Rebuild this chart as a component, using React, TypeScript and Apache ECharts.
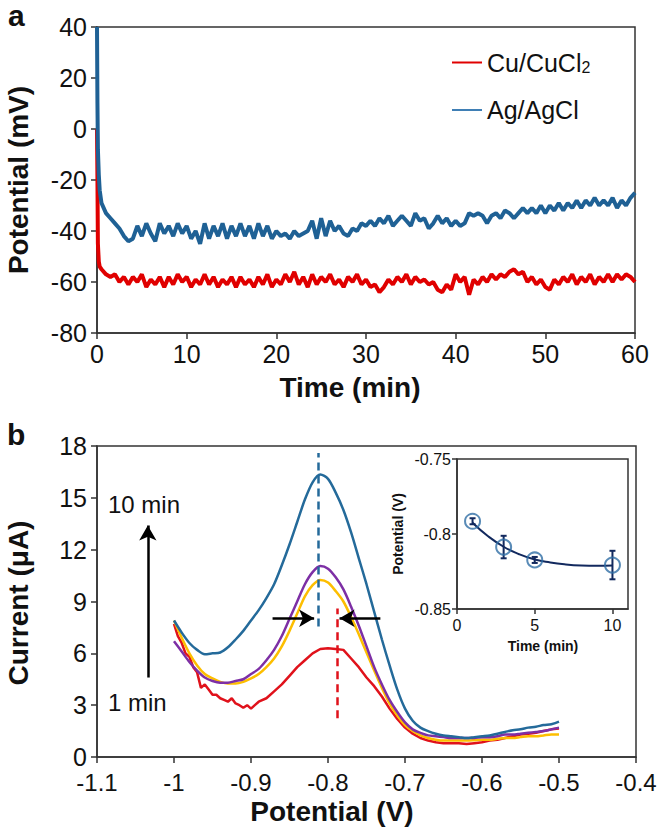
import React, { useEffect, useRef } from "react";
import * as echarts from "echarts";

// ---------- Panel a: open-circuit potential vs time ----------
const earlyTime = [0, 0.05, 0.1, 0.2, 0.3];
const agEarly = [40, 10, -8, -18, -24];
const cuEarly = [0, -20, -45, -52, -54];
// values every 0.5 min from 0.5 to 60 min
const agValues = [
  -29, -33, -35, -37, -39, -42, -44, -43, -38, -42, -37, -41, -44, -37, -41, -38, -42, -37, -41, -38,
  -43, -40, -45, -37, -43, -38, -42, -37, -43, -38, -42, -37, -42, -38, -43, -37, -42, -38, -43, -40,
  -42, -41, -43, -40, -42, -41, -40, -36, -43, -35, -42, -36, -40, -38, -41, -42, -39, -40, -37, -38,
  -36, -38, -35, -37, -34, -38, -36, -34, -36, -38, -33, -36, -35, -39, -37, -34, -37, -35, -38, -36,
  -38, -37, -33, -34, -33, -34, -37, -34, -33, -35, -32, -33, -35, -33, -31, -33, -31, -33, -30, -33,
  -30, -32, -29, -32, -29, -31, -28, -31, -28, -30, -27, -30, -28, -30, -27, -31, -28, -30, -27, -25,
];
const cuValues = [
  -55, -57, -58, -57, -60, -58, -61, -58, -60, -57, -62, -59, -61, -58, -62, -58, -61, -57, -60, -58,
  -62, -59, -61, -57, -61, -58, -62, -59, -61, -58, -62, -58, -61, -59, -62, -58, -61, -57, -62, -59,
  -61, -57, -60, -56, -61, -58, -62, -57, -61, -58, -60, -57, -61, -59, -62, -58, -60, -57, -61, -59,
  -62, -61, -64, -62, -59, -61, -58, -60, -57, -61, -58, -60, -59, -61, -60, -63, -64, -61, -63, -57,
  -60, -58, -65, -59, -61, -58, -60, -57, -59, -57, -58, -56, -55, -57, -56, -60, -58, -61, -59, -62,
  -63, -59, -61, -58, -60, -57, -61, -58, -60, -57, -61, -58, -60, -57, -60, -57, -59, -57, -58, -60,
];

// ---------- Panel b: voltammograms ----------
const potentialX = [
  -1.0, -0.99, -0.98, -0.97, -0.96, -0.95, -0.94, -0.93, -0.92, -0.91, -0.9, -0.89, -0.88, -0.87, -0.86,
  -0.85, -0.84, -0.83, -0.82, -0.81, -0.8, -0.79, -0.78, -0.77, -0.76, -0.75, -0.74, -0.73, -0.72, -0.71,
  -0.7, -0.69, -0.68, -0.67, -0.66, -0.65, -0.64, -0.63, -0.62, -0.61, -0.6, -0.59, -0.58, -0.57, -0.56,
  -0.55, -0.54, -0.53, -0.52, -0.51, -0.5,
];
const current10min = [
  7.9, 7.2, 6.6, 6.2, 5.95, 6.0, 6.05, 6.35, 6.8, 7.3, 7.9, 8.5, 9.2, 10.0, 11.1,
  12.3, 13.6, 14.9, 15.9, 16.35, 16.1, 15.3, 14.3, 13.0, 11.5, 10.0, 8.4, 6.8, 5.3, 3.9,
  2.8, 2.1, 1.7, 1.5, 1.35, 1.25, 1.2, 1.15, 1.1, 1.15, 1.2, 1.25, 1.35, 1.45, 1.55,
  1.6, 1.7, 1.75, 1.85, 1.9, 2.05,
];
const current5min = [
  6.7, 6.1, 5.5, 5.0, 4.6, 4.4, 4.3, 4.3, 4.4, 4.5, 4.8, 5.1, 5.6, 6.2, 7.0,
  8.0, 9.0, 10.0, 10.7, 11.05, 10.9, 10.4, 9.7, 8.7, 7.6, 6.4, 5.2, 4.2, 3.3, 2.6,
  2.0, 1.6, 1.4, 1.25, 1.2, 1.15, 1.1, 1.1, 1.1, 1.1, 1.15, 1.15, 1.2, 1.3, 1.3,
  1.35, 1.4, 1.45, 1.5, 1.6, 1.7,
];
const current3min = [
  7.9, 6.9, 6.0, 5.3, 4.8, 4.55, 4.35, 4.25, 4.25, 4.35, 4.55, 4.8, 5.2, 5.7, 6.4,
  7.3, 8.3, 9.3, 9.95, 10.25, 10.1, 9.6, 9.0, 8.1, 7.1, 6.05, 5.0, 4.0, 3.1, 2.4,
  1.85, 1.5, 1.25, 1.1, 1.0, 0.95, 0.95, 0.95, 0.95, 0.97, 1.0, 1.0, 1.05, 1.1, 1.1,
  1.15, 1.2, 1.2, 1.25, 1.3, 1.3,
];
const redX = [
  -1.0, -0.995, -0.99, -0.985, -0.98, -0.975, -0.97, -0.965, -0.96, -0.955, -0.95, -0.945, -0.94, -0.935,
  -0.93, -0.925, -0.92, -0.915, -0.91, -0.905, -0.9, -0.895, -0.89, -0.88, -0.87, -0.86, -0.85, -0.84,
  -0.83, -0.82, -0.81, -0.8, -0.79, -0.78, -0.77, -0.76, -0.75, -0.74, -0.73, -0.72, -0.71, -0.7, -0.69,
  -0.68, -0.67, -0.66, -0.65, -0.64, -0.63, -0.62, -0.61, -0.6, -0.59, -0.58, -0.57, -0.56, -0.55, -0.54,
  -0.53, -0.52, -0.51, -0.5,
];
const current1min = [
  7.7, 7.0, 6.6, 6.0, 5.8, 5.2, 4.9, 4.0, 4.2, 3.9, 3.6, 3.6, 3.4, 3.3,
  3.2, 3.4, 3.1, 3.0, 2.85, 3.0, 2.8, 3.0, 3.2, 3.4, 3.8, 4.2, 4.7, 5.2,
  5.6, 6.0, 6.25, 6.3, 6.25, 6.2, 5.7, 5.2, 4.6, 4.1, 3.5, 2.8, 2.2, 1.7, 1.35,
  1.1, 0.95, 0.85, 0.8, 0.8, 0.8, 0.75, 0.8, 0.85, 0.95, 1.0, 1.1, 1.2, 1.3, 1.35,
  1.4, 1.5, 1.6, 1.65,
];
const peak10min = -0.813;
const peak1min = -0.788;

// ---------- Inset: peak potential vs time ----------
const insetTime = [1, 3, 5, 10];
const insetPeak = [-0.7915, -0.8087, -0.8173, -0.8207];
const insetErr = [0.002, 0.0075, 0.002, 0.0095];
const fitTime = [1, 2, 3, 4, 5, 6, 7, 8, 9, 10];
const fitPeak = [-0.7925, -0.8015, -0.8085, -0.8135, -0.817, -0.819, -0.8203, -0.821, -0.8212, -0.821];

const FONT = "'Liberation Sans', Arial, sans-serif";
const RED = "#e00000";
const BLUE_A = "#1f6195";
const B_BLUE = "#246a9a";
const B_PURPLE = "#7d2fa5";
const B_YELLOW = "#fdbe00";
const B_RED = "#e0121b";
const NAVY = "#12295e";
const AXIS = "#333";

function pairs(xs: number[], ys: number[]) {
  return xs.map((x, i) => [x, ys[i]]);
}
function timeSeries(early: number[], values: number[]) {
  const out: number[][] = early.map((v, i) => [earlyTime[i], v]);
  values.forEach((v, i) => out.push([0.5 * (i + 1), v]));
  return out;
}
const fmt1 = (v: number) => String(Number(v.toFixed(2)));

export default function App() {
  const ref = useRef<HTMLDivElement>(null);
  useEffect(() => {
    if (!ref.current) return;
    const chart = echarts.init(ref.current, undefined, { renderer: "svg" });
    const axisLine = { show: true, onZero: false, lineStyle: { color: AXIS, width: 1.5 } };
    const tick = { show: true, inside: false, length: 6, lineStyle: { color: AXIS, width: 1.5 } };
    const tickLabel = { color: "#111", fontSize: 25, fontFamily: FONT };
    const option: any = {
      animation: false,
      backgroundColor: "#fff",
      grid: [
        { left: 97, top: 27, width: 538, height: 306, show: true, borderColor: AXIS, borderWidth: 1.5 },
        { left: 97, top: 446, width: 539, height: 311, show: true, borderColor: AXIS, borderWidth: 1.5 },
        { left: 457, top: 459, width: 171, height: 150, show: true, borderColor: AXIS, borderWidth: 1.5, backgroundColor: "#fff" },
      ],
      xAxis: [
        { type: "value", gridIndex: 0, min: 0, max: 60, interval: 10, axisLine, axisTick: tick, splitLine: { show: false }, axisLabel: { ...tickLabel, margin: 8 } },
        { type: "value", gridIndex: 1, min: -1.1, max: -0.4, interval: 0.1, axisLine, axisTick: tick, splitLine: { show: false }, axisLabel: { ...tickLabel, fontSize: 24, margin: 13, formatter: fmt1 } },
        { type: "value", gridIndex: 2, min: 0, max: 11, axisLine, axisTick: { ...tick, length: 5, customValues: [0, 5, 10] }, splitLine: { show: false }, axisLabel: { color: "#111", fontSize: 16, fontFamily: FONT, margin: 8, customValues: [0, 5, 10] } },
      ],
      yAxis: [
        { type: "value", gridIndex: 0, min: -80, max: 40, interval: 20, axisLine, axisTick: tick, splitLine: { show: false }, axisLabel: { ...tickLabel, margin: 10 } },
        { type: "value", gridIndex: 1, min: 0, max: 18, interval: 3, axisLine, axisTick: tick, splitLine: { show: false }, axisLabel: { ...tickLabel, margin: 10 } },
        { type: "value", gridIndex: 2, min: -0.85, max: -0.75, interval: 0.05, axisLine, axisTick: { ...tick, length: 5 }, splitLine: { show: false }, axisLabel: { color: "#111", fontSize: 16, fontFamily: FONT, margin: 6, formatter: fmt1 } },
      ],
      legend: {
        orient: "vertical",
        left: 447,
        top: 45,
        itemWidth: 30,
        itemHeight: 14,
        itemGap: 22,
        icon: "path://M0,6 L30,6 L30,8 L0,8 Z",
        data: ["Cu/CuCl2", "Ag/AgCl"],
        formatter: (name: string) => (name === "Cu/CuCl2" ? "{t|Cu/CuCl}{s|2}" : "{t|Ag/AgCl}"),
        textStyle: {
          rich: {
            t: { fontSize: 25, fontFamily: FONT, color: "#111" },
            s: { fontSize: 16, fontFamily: FONT, color: "#111", verticalAlign: "bottom", padding: [10, 0, 0, 0] },
          },
        },
      },
      series: [
        { name: "Cu/CuCl2", type: "line", xAxisIndex: 0, yAxisIndex: 0, data: timeSeries(cuEarly, cuValues), showSymbol: false, lineStyle: { color: RED, width: 4 }, itemStyle: { color: RED } },
        { name: "Ag/AgCl", type: "line", xAxisIndex: 0, yAxisIndex: 0, data: timeSeries(agEarly, agValues), showSymbol: false, lineStyle: { color: BLUE_A, width: 4 }, itemStyle: { color: "#3f7fb5" } },
        { name: "1 min", type: "line", xAxisIndex: 1, yAxisIndex: 1, data: pairs(redX, current1min), showSymbol: false, lineStyle: { color: B_RED, width: 2.5 } },
        { name: "3 min", type: "line", xAxisIndex: 1, yAxisIndex: 1, data: pairs(potentialX, current3min), showSymbol: false, smooth: 0.3, lineStyle: { color: B_YELLOW, width: 2.5 } },
        { name: "5 min", type: "line", xAxisIndex: 1, yAxisIndex: 1, data: pairs(potentialX, current5min), showSymbol: false, smooth: 0.3, lineStyle: { color: B_PURPLE, width: 2.5 } },
        {
          name: "10 min", type: "line", xAxisIndex: 1, yAxisIndex: 1, data: pairs(potentialX, current10min), showSymbol: false, smooth: 0.3, lineStyle: { color: B_BLUE, width: 2.5 },
          markLine: {
            silent: true,
            symbol: "none",
            label: { show: false },
            data: [
              [{ coord: [peak10min, 7.55] }, { coord: [peak10min, 17.6] }],
              [{ coord: [peak1min, 2.25], lineStyle: { color: B_RED, type: [8, 5], width: 2.5 } }, { coord: [peak1min, 8.6] }],
            ],
            lineStyle: { color: B_BLUE, type: [8, 5], width: 2.5 },
          },
        },
        {
          name: "arrows", type: "line", xAxisIndex: 1, yAxisIndex: 1, data: [], showSymbol: false,
          markLine: {
            silent: true,
            symbol: ["none", "arrow"],
            symbolSize: [13, 15],
            label: { show: false },
            lineStyle: { color: "#000", type: "solid", width: 2.5 },
            data: [
              [{ coord: [-0.872, 8.03] }, { coord: [-0.818, 8.03] }],
              [{ coord: [-0.732, 8.03] }, { coord: [-0.785, 8.03] }],
              [{ coord: [-1.034, 4.6] }, { coord: [-1.034, 13.4] }],
            ],
          },
        },
        { name: "fit", type: "line", xAxisIndex: 2, yAxisIndex: 2, data: pairs(fitTime, fitPeak), smooth: true, showSymbol: false, lineStyle: { color: NAVY, width: 2 }, z: 3 },
        {
          name: "err", type: "custom", xAxisIndex: 2, yAxisIndex: 2, z: 4,
          data: insetTime.map((t, i) => [t, insetPeak[i], insetErr[i]]),
          encode: { x: 0, y: 1 },
          renderItem: (_p: any, api: any) => {
            const x = api.value(0), y = api.value(1), e = api.value(2);
            const a = api.coord([x, y + e]);
            const b = api.coord([x, y - e]);
            const st = { stroke: NAVY, lineWidth: 2 };
            return {
              type: "group",
              children: [
                { type: "line", shape: { x1: a[0], y1: a[1], x2: b[0], y2: b[1] }, style: st },
                { type: "line", shape: { x1: a[0] - 3, y1: a[1], x2: a[0] + 3, y2: a[1] }, style: st },
                { type: "line", shape: { x1: b[0] - 3, y1: b[1], x2: b[0] + 3, y2: b[1] }, style: st },
              ],
            };
          },
        },
        {
          name: "peak", type: "scatter", xAxisIndex: 2, yAxisIndex: 2, z: 5, data: pairs(insetTime, insetPeak),
          symbol: "circle", symbolSize: 15,
          itemStyle: { color: "rgba(255,255,255,0)", borderColor: "#2f6ea5", borderWidth: 2 },
        },
      ],
      graphic: [
        { type: "text", left: 8, top: 0, style: { text: "a", font: `bold 30px ${FONT}`, fill: "#111" } },
        { type: "text", left: 7, top: 419, style: { text: "b", font: `bold 30px ${FONT}`, fill: "#111" } },
        { type: "text", x: 18, y: 180, rotation: Math.PI / 2, style: { text: "Potential (mV)", font: `bold 28px ${FONT}`, fill: "#111", align: "center", verticalAlign: "middle" } },
        { type: "text", x: 350, y: 387, style: { text: "Time (min)", font: `bold 28px ${FONT}`, fill: "#111", align: "center", verticalAlign: "middle" } },
        { type: "text", x: 18, y: 603, rotation: Math.PI / 2, style: { text: "Current (\u03bcA)", font: `bold 28px ${FONT}`, fill: "#111", align: "center", verticalAlign: "middle" } },
        { type: "text", x: 332, y: 811, style: { text: "Potential (V)", font: `bold 28px ${FONT}`, fill: "#111", align: "center", verticalAlign: "middle" } },
        { type: "text", x: 108, y: 504, style: { text: "10 min", font: `24px ${FONT}`, fill: "#111", align: "left", verticalAlign: "middle" } },
        { type: "text", x: 108, y: 702, style: { text: "1 min", font: `24px ${FONT}`, fill: "#111", align: "left", verticalAlign: "middle" } },
        { type: "text", x: 398, y: 534, rotation: Math.PI / 2, style: { text: "Potential (V)", font: `bold 14px ${FONT}`, fill: "#111", align: "center", verticalAlign: "middle" } },
        { type: "text", x: 543, y: 646, style: { text: "Time (min)", font: `bold 14px ${FONT}`, fill: "#111", align: "center", verticalAlign: "middle" } },
      ],
    };
    chart.setOption(option);
    return () => chart.dispose();
  }, []);
  return <div ref={ref} style={{ position: "fixed", left: 0, top: 0, width: 664, height: 834 }} />;
}
